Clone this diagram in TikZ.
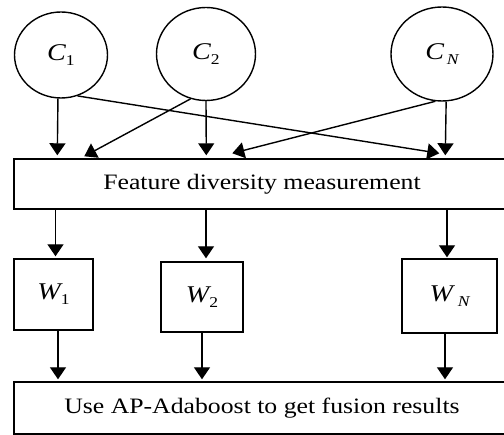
\documentclass[tikz,border=0pt]{standalone}
\usepackage{fontspec}
\setmainfont{Liberation Serif}
\usepackage{graphicx}
\usetikzlibrary{shapes.geometric,arrows.meta,calc}
\newcommand{\lbl}[2]{\scalebox{1.17}[1]{\fontsize{24}{24}\selectfont\itshape #1\raisebox{-5pt}{\fontsize{15}{15}\selectfont #2}}}
\newcommand{\stext}[1]{\scalebox{1.17}[1]{\fontsize{22}{22}\selectfont #1}}
\begin{document}
\begin{tikzpicture}[x=1pt,y=-1pt,
  lw/.style={line width=1.4pt},
  cls/.style={ellipse,draw,lw,inner sep=0pt},
  bx/.style={rectangle,draw,lw,inner sep=0pt},
  arr/.style={line width=1.4pt,-{Triangle[length=12pt,width=16pt]}}]
\useasboundingbox (0,0) rectangle (504,435);
\clip (0,0) rectangle (504,435);
\fill[white] (0,0) rectangle (504,435);
% classifiers
\node[cls,minimum width=93pt,minimum height=86pt] (c1) at (61,55) {\lbl{C}{\upshape 1}};
\node[cls,minimum width=99pt,minimum height=93pt] (c2) at (206,54) {\lbl{C}{\upshape 2}};
\node[cls,minimum width=102pt,minimum height=94pt] (cN) at (442,54) {\lbl{C}{\,N}};
% feature diversity box
\node[bx,minimum width=494pt,minimum height=50pt] (fdm) at (261,184) {};
\node (fdmt) at (262,184) {\stext{Feature diversity measurement}};
% weights
\node[bx,minimum width=79pt,minimum height=71pt] (w1) at (53.5,294.5) {\lbl{W}{\upshape 1}};
\node[bx,minimum width=82pt,minimum height=70pt] (w2) at (202,297) {\lbl{W}{\upshape 2}};
\node[bx,minimum width=95pt,minimum height=74pt] (wN) at (449.5,296) {\lbl{W}{\;N}};
% fusion box
\node[bx,minimum width=494pt,minimum height=52pt] (fus) at (261,408) {};
\node (fust) at (262,408) {\stext{Use AP-Adaboost to get fusion results}};
% arrows from classifiers
\coordinate (t1) at ($(fdm.north west)+(44,-3)$);
\coordinate (t2) at ($(fdm.north west)+(71,-2)$);
\coordinate (t3) at ($(fdm.north west)+(193,-3)$);
\coordinate (t4) at ($(fdm.north west)+(219,-5)$);
\coordinate (t5) at ($(fdm.north west)+(426,-5)$);
\coordinate (t6) at ($(fdm.north west)+(432,-3)$);
\draw[arr] (c1.-94) -- (t1);
\draw[arr] (c1.-68) -- (t5);
\draw[arr] (c2.-109) -- (t2);
\draw[arr] (c2.south) -- (t3);
\draw[arr] (cN.-98) -- (t4);
\draw[arr] (cN.-85) -- (t6);
% arrows to weights
\coordinate (w1t) at ($(w1.north)+(2,-2)$);
\coordinate (w2t) at ($(w2.north)+(4,-3)$);
\coordinate (wNt) at ($(wN.north)+(-2.5,-1)$);
\draw[arr] (w1t |- fdm.south) -- (w1t);
\draw[arr] (w2t |- fdm.south) -- (w2t);
\draw[arr] (wNt |- fdm.south) -- (wNt);
% arrows to fusion
\coordinate (w1b) at ($(w1.south)+(4.5,0)$);
\coordinate (w2b) at (w2.south);
\coordinate (wNb) at ($(wN.south)+(-4.5,0)$);
\draw[arr] (w1b) -- ($(w1b |- fus.north)+(0,-2)$);
\draw[arr] (w2b) -- ($(w2b |- fus.north)+(0,-2)$);
\draw[arr] (wNb) -- ($(wNb |- fus.north)+(0,-2)$);
\end{tikzpicture}
\end{document}
